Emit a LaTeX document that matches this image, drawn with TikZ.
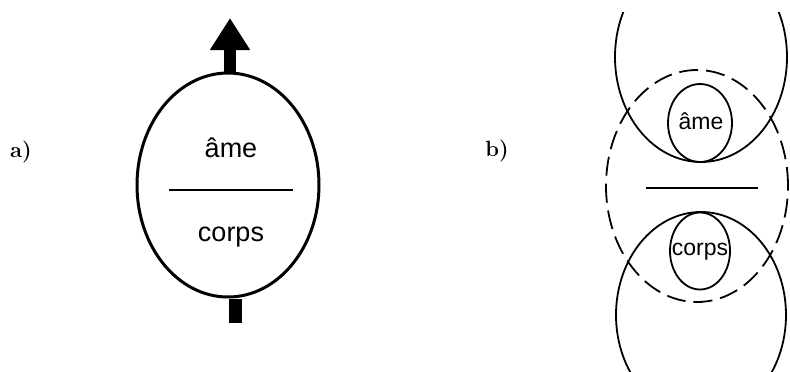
\documentclass[tikz,border=0pt]{standalone}
\usepackage{fontspec}
\setsansfont{Liberation Sans}
\usetikzlibrary{shapes.geometric,arrows.meta}

\begin{document}
\begin{tikzpicture}[x=1pt,y=-1pt,
    word/.style={font=\sffamily\fontsize{27}{29}\selectfont, anchor=base},
    smallword/.style={font=\sffamily\fontsize{23}{25}\selectfont, anchor=base},
    tag/.style={font=\bfseries\fontsize{22}{24}\selectfont},
    oval/.style={draw, ellipse, inner sep=0pt},
    bar/.style={line width=1.5pt}]
  \useasboundingbox (0,0) rectangle (790,372);
  \clip (0,12) rectangle (790,372);

  % a) one body, one soul
  \node[tag] (taga) at (21,152) {a)};
  \node[oval, line width=3pt, minimum width=182pt, minimum height=224pt] (whole) at (228,185) {};
  \coordinate (tip) at (230,18);
  \coordinate (stub) at (235,323);
  \draw[line width=12pt, -{Triangle[length=32pt,width=38pt]}] (whole.north -| tip) -- (tip);
  \draw[line width=13pt] (whole.south -| stub) -- (stub);
  \node[word] (soula) at (231,157) {âme};
  \node[word] (bodya) at (231,241) {corps};
  \draw[bar] (169,190) -- (293,190);

  % b) two spheres
  \node[tag] (tagb) at (497,151) {b)};
  \node[oval, line width=1.8pt, dash pattern=on 19pt off 8pt, minimum width=182pt, minimum height=232pt] (mid) at (697,186) {};
  \node[oval, line width=1.8pt, minimum width=172pt, minimum height=210pt] (upper) at (701,57) {};
  \node[oval, line width=1.8pt, minimum width=170pt, minimum height=206pt] (lower) at (701,315) {};
  \node[oval, line width=1.8pt, minimum width=64pt, minimum height=78pt] (soulring) at (700,123) {};
  \node[oval, line width=1.8pt, minimum width=60pt, minimum height=77pt] (bodyring) at (700,251) {};
  \node[smallword] (soulb) at (701,129) {âme};
  \node[smallword] (bodyb) at (700,255) {corps};
  \draw[bar] (646,188) -- (758,188);
\end{tikzpicture}
\end{document}
